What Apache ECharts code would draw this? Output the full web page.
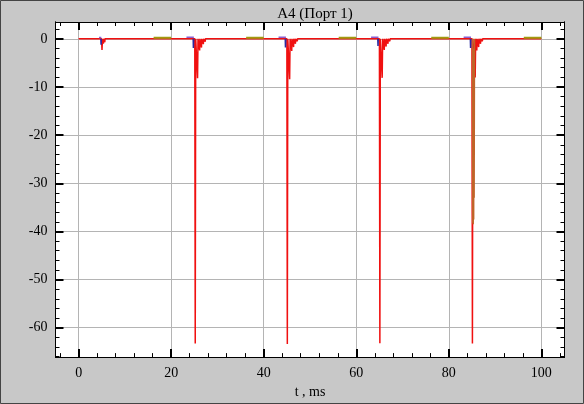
<!DOCTYPE html>
<html><head><meta charset="utf-8">
<script src="https://cdn.jsdelivr.net/npm/echarts@6/dist/echarts.min.js"></script>
<style>html,body{margin:0;padding:0;background:#c8c8c8}#c{width:584px;height:404px}</style>
</head><body><div id="c"></div>
<script>
// ---- data ----
const chartTitle = 'A4 (Порт 1)';
const xName = 't , ms';
const xMajor = [0, 20, 40, 60, 80, 100];
const xMinor = [-4, 4, 8, 12, 16, 24, 28, 32, 36, 44, 48, 52, 56, 64, 68, 72, 76, 84, 88, 92, 96, 104];
const yMajor = [-60, -50, -40, -30, -20, -10, 0];
const yMinor = [-66, -64, -62, -58, -56, -54, -52, -48, -46, -44, -42, -38, -36, -34, -32, -28, -26, -24, -22, -18, -16, -14, -12, -8, -6, -4, -2, 2];

const redSeries = [
  [0, 0], [4.95, 0], [5.05, -2.3], [5.15, 0], [5.3, 0], [5.35, -1.0], [5.4, 0], [5.6, 0], [5.65, -0.7], [5.7, 0], [5.9, 0], [5.95, -0.4], [6.0, 0],
  [25.1, 0], [25.2, -63.3], [25.3, 0], [25.6, 0], [25.7, -8.2], [25.8, 0], [26.1, 0], [26.15, -2.4], [26.2, 0], [26.5, 0], [26.55, -1.8], [26.6, 0], [26.9, 0], [26.95, -1.1], [27.0, 0], [27.3, 0], [27.35, -0.6], [27.4, 0],
  [45.0, 0], [45.1, -63.4], [45.2, 0], [45.5, 0], [45.6, -8.4], [45.7, 0], [46.0, 0], [46.05, -2.5], [46.1, 0], [46.4, 0], [46.45, -1.7], [46.5, 0], [46.8, 0], [46.85, -1.0], [46.9, 0], [47.2, 0], [47.25, -0.5], [47.3, 0],
  [65.0, 0], [65.1, -63.2], [65.2, 0], [65.5, 0], [65.6, -8.1], [65.7, 0], [66.0, 0], [66.05, -2.3], [66.1, 0], [66.4, 0], [66.45, -1.6], [66.5, 0], [66.8, 0], [66.85, -1.0], [66.9, 0], [67.2, 0], [67.25, -0.5], [67.3, 0],
  [85.0, 0], [85.1, -63.3], [85.2, 0], [85.6, 0], [85.7, -8.0], [85.8, 0], [86.0, 0], [86.05, -2.4], [86.1, 0], [86.4, 0], [86.45, -1.7], [86.5, 0], [86.8, 0], [86.85, -1.0], [86.9, 0], [87.2, 0], [87.25, -0.5], [87.3, 0],
  [100, 0]
];
const brownSeries = [
  [85.12, 0], [85.17, -38.2], [85.22, -3], [85.27, -38.5], [85.32, -5], [85.37, -37.5], [85.42, -2], [85.47, -33], [85.55, 0]
];
const oliveSeries = [
  [16.2, 0.25], [20, 0.25], [20, '-'],
  [36.2, 0.25], [40, 0.25], [40, '-'],
  [56.2, 0.25], [60, 0.25], [60, '-'],
  [76.2, 0.25], [80, 0.25], [80, '-'],
  [96.2, 0.25], [100, 0.25]
];
const purpleSeries = [
  [4.4, 0.3], [4.9, 0.3], [4.9, '-'],
  [23.3, 0.35], [24.9, 0.35], [24.9, '-'],
  [43.2, 0.35], [44.8, 0.35], [44.8, '-'],
  [63.2, 0.35], [64.8, 0.35], [64.8, '-'],
  [83.2, 0.35], [84.8, 0.35]
];
const blueSeries = [
  [4.8, 0], [4.85, -1.2], [4.9, 0], [4.9, '-'],
  [24.75, 0], [24.8, -1.9], [24.85, 0], [24.85, '-'],
  [44.65, 0], [44.7, -1.8], [44.75, 0], [44.75, '-'],
  [64.65, 0], [64.7, -1.5], [64.75, 0], [64.75, '-'],
  [84.65, 0], [84.7, -1.9], [84.75, 0]
];

// ---- chart ----
const font = 'Liberation Serif';
const xMin = -5, xMax = 105, yMin = -66.1, yMax = 3.5;
function xAx(pos, major, showLabel, split, len, w) {
  return {
    type: 'value', position: pos, min: xMin, max: xMax,
    name: showLabel ? xName : '', nameLocation: 'middle', nameGap: 24,
    nameTextStyle: {fontFamily: font, fontSize: 14, color: '#000'},
    axisLine: {show: true, onZero: false, lineStyle: {color: '#000', width: 1}},
    axisTick: {show: true, inside: true, length: len, customValues: major, lineStyle: {color: '#000', width: w}},
    axisLabel: {show: showLabel, customValues: major, fontFamily: font, fontSize: 14, color: '#000', margin: 9},
    splitLine: {show: split, lineStyle: {color: '#b4b4b4', width: 1}}
  };
}
function yAx(pos, major, showLabel, split, len, w) {
  return {
    type: 'value', position: pos, min: yMin, max: yMax,
    axisLine: {show: true, onZero: false, lineStyle: {color: '#000', width: 1}},
    axisTick: {show: true, inside: true, length: len, customValues: major, lineStyle: {color: '#000', width: w}},
    axisLabel: {show: showLabel, customValues: major, fontFamily: font, fontSize: 14, color: '#000', margin: 8},
    splitLine: {show: split, lineStyle: {color: '#b4b4b4', width: 1}}
  };
}
function ser(data, color, width) {
  return {type: 'line', data: data, xAxisIndex: 0, yAxisIndex: 0, showSymbol: false, symbol: 'none',
    connectNulls: false, animation: false, lineStyle: {color: color, width: width}};
}
const chart = echarts.init(document.getElementById('c'), null, {renderer: 'canvas'});
chart.setOption({
  backgroundColor: '#c8c8c8',
  animation: false,
  title: {text: chartTitle, left: 310, top: 2, textAlign: 'center',
    textStyle: {fontFamily: font, fontSize: 15, fontWeight: 'normal', color: '#000'}},
  grid: {left: 55.5, top: 22, width: 509, height: 341, show: true, backgroundColor: '#fff', borderWidth: 0},
  xAxis: [
    xAx('bottom', xMajor, true, true, 8, 2),
    xAx('bottom', xMinor, false, false, 4, 1),
    xAx('top', xMajor, false, false, 8, 2),
    xAx('top', xMinor, false, false, 4, 1)
  ],
  yAxis: [
    yAx('left', yMajor, true, true, 8, 2),
    yAx('left', yMinor, false, false, 4, 1),
    yAx('right', yMajor, false, false, 8, 2),
    yAx('right', yMinor, false, false, 4, 1)
  ],
  graphic: [{type: 'rect', shape: {x: 0.5, y: 0.5, width: 583, height: 403},
    style: {fill: 'none', stroke: '#444', lineWidth: 1}, silent: true}],
  series: [
    ser(redSeries, '#f01010', 1.5),
    ser(brownSeries, '#c06428', 1.5),
    ser(oliveSeries, '#a09a10', 2),
    ser(purpleSeries, '#8a60d0', 1.5),
    ser(blueSeries, '#2a2aa0', 1.5)
  ]
});
</script></body></html>
